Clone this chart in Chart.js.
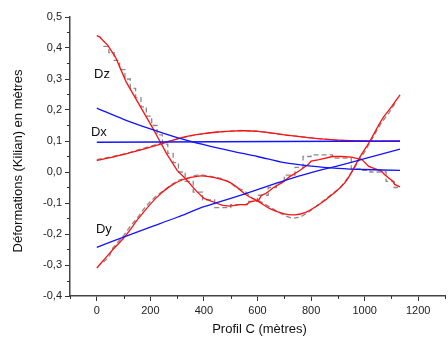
<!DOCTYPE html>
<html><head><meta charset="utf-8">
<script src="https://cdn.jsdelivr.net/npm/chart.js@4.4.0/dist/chart.umd.min.js"></script>
<style>html,body{margin:0;padding:0;background:#fff}</style>
</head><body>
<canvas id="c" width="448" height="338"></canvas>
<script>
// ---- data ----
const xTickValues = [0, 200, 400, 600, 800, 1000, 1200];

const dzRedX = [0, 12, 22, 40, 70, 110, 160, 210, 235, 260, 300, 335, 370, 400, 445, 470, 495, 535, 560, 570, 605, 615, 630, 660, 690, 700, 720, 755, 790, 800, 830, 880, 915, 950, 990, 1015, 1050, 1060, 1075, 1105, 1112, 1132];
const dzRedY = [0.44, 0.435, 0.425, 0.41, 0.37, 0.29, 0.215, 0.14, 0.10, 0.06, 0.005, -0.025, -0.06, -0.085, -0.10, -0.108, -0.11, -0.105, -0.105, -0.097, -0.09, -0.075, -0.07, -0.05, -0.035, -0.03, -0.015, 0.003, 0.025, 0.035, 0.04, 0.05, 0.05, 0.048, 0.04, 0.018, 0.007, 0.005, -0.009, -0.03, -0.04, -0.048];

const dzGrayX = [25, 45, 45, 65, 65, 85, 85, 105, 105, 125, 125, 145, 145, 165, 165, 185, 185, 205, 205, 225, 225, 245, 245, 265, 265, 285, 285, 305, 305, 330, 330, 360, 360, 395, 395, 440, 440, 500, 500, 560, 560, 600, 600, 640, 640, 670, 670, 700, 700, 740, 740, 770, 770, 800, 800, 880, 880, 950, 950, 990, 990, 1020, 1020, 1080, 1080, 1110, 1110, 1130];
const dzGrayY = [0.405, 0.405, 0.385, 0.385, 0.36, 0.36, 0.33, 0.33, 0.30, 0.30, 0.27, 0.27, 0.24, 0.24, 0.21, 0.21, 0.18, 0.18, 0.15, 0.15, 0.12, 0.12, 0.09, 0.09, 0.06, 0.06, 0.03, 0.03, 0.0, 0.0, -0.03, -0.03, -0.065, -0.065, -0.09, -0.09, -0.115, -0.115, -0.105, -0.105, -0.095, -0.095, -0.075, -0.075, -0.05, -0.05, -0.035, -0.035, -0.01, -0.01, 0.015, 0.015, 0.05, 0.05, 0.055, 0.055, 0.045, 0.045, 0.01, 0.01, 0.005, 0.005, 0.0, 0.0, -0.03, -0.03, -0.05, -0.05];

const dxRedX = [0, 50, 100, 150, 200, 250, 300, 350, 400, 450, 500, 550, 600, 650, 700, 750, 800, 850, 900, 950, 1000, 1050, 1100, 1132];
const dxRedY = [0.037, 0.046, 0.057, 0.068, 0.08, 0.093, 0.107, 0.117, 0.124, 0.129, 0.132, 0.133, 0.131, 0.126, 0.12, 0.115, 0.11, 0.106, 0.103, 0.101, 0.100, 0.099, 0.099, 0.099];

const dxGrayX = [0, 60, 120, 180, 240, 300, 360, 420, 480, 540, 600, 660, 720, 780, 840, 900, 960, 1020, 1080, 1130];
const dxGrayY = [0.04, 0.05, 0.062, 0.078, 0.093, 0.106, 0.118, 0.126, 0.131, 0.134, 0.132, 0.124, 0.118, 0.112, 0.107, 0.102, 0.100, 0.099, 0.099, 0.099];

const dyRedX = [0, 50, 105, 160, 220, 270, 320, 380, 440, 500, 560, 600, 650, 700, 740, 780, 830, 880, 930, 980, 1020, 1065, 1100, 1132];
const dyRedY = [-0.31, -0.26, -0.208, -0.145, -0.085, -0.048, -0.025, -0.013, -0.018, -0.035, -0.075, -0.093, -0.12, -0.135, -0.138, -0.13, -0.105, -0.072, -0.03, 0.045, 0.10, 0.17, 0.21, 0.249];

const dyGrayX = [25, 45, 60, 80, 100, 125, 150, 175, 200, 225, 250, 280, 310, 340, 370, 400, 430, 460, 490, 520, 550, 580, 610, 640, 670, 700, 730, 760, 790, 820, 850, 880, 910, 940, 960, 980, 1000, 1030, 1060, 1090, 1120];
const dyGrayY = [-0.29, -0.275, -0.245, -0.225, -0.205, -0.175, -0.15, -0.12, -0.095, -0.075, -0.06, -0.04, -0.025, -0.02, -0.01, -0.01, -0.015, -0.02, -0.03, -0.05, -0.06, -0.085, -0.095, -0.11, -0.125, -0.14, -0.15, -0.145, -0.13, -0.11, -0.09, -0.07, -0.05, -0.015, 0.01, 0.04, 0.065, 0.11, 0.155, 0.19, 0.23];

const dzBlueX = [0, 100, 200, 300, 400, 500, 600, 700, 800, 900, 1000, 1132];
const dzBlueY = [0.206, 0.17, 0.139, 0.111, 0.088, 0.068, 0.05, 0.03, 0.019, 0.012, 0.008, 0.005];

const dxBlueX = [0, 1132];
const dxBlueY = [0.096, 0.100];

const dyBlueX = [0, 100, 200, 300, 400, 500, 600, 700, 800, 900, 1000, 1132];
const dyBlueY = [-0.243, -0.21, -0.178, -0.146, -0.112, -0.085, -0.057, -0.028, -0.002, 0.02, 0.043, 0.074];

const seriesLabels = [
  {text: 'Dz', x: -10, y: 0.314},
  {text: 'Dx', x: -22, y: 0.128},
  {text: 'Dy', x: -3, y: -0.186}
];
const xTitle = 'Profil C (mètres)';
const yTitle = 'Déformations (Kilian) en mètres';

// ---- build ----
const pts = (xs, ys) => xs.map((x, i) => ({x: x, y: ys[i]}));
const FONT = '"Liberation Sans", Arial, sans-serif';
const RED = '#ff1010', BLUE = '#1414ff', GRAY = '#8a8a8a';

function ds(xs, ys, color, dashed, order, tension) {
  return {
    data: pts(xs, ys), borderColor: color, borderWidth: 1.3,
    borderDash: dashed ? [5, 3] : [], pointRadius: 0, fill: false,
    tension: tension || 0, order: order
  };
}

const deco = {
  id: 'deco',
  afterDraw(chart) {
    const ctx = chart.ctx, xs = chart.scales.x, ys = chart.scales.y;
    const a = chart.chartArea;
    ctx.save();
    ctx.strokeStyle = '#333'; ctx.lineWidth = 1;
    for (let v = -100; v <= 1300; v += 200) {
      const p = Math.round(xs.getPixelForValue(v)) + 0.5;
      ctx.beginPath(); ctx.moveTo(p, a.bottom); ctx.lineTo(p, a.bottom + 3); ctx.stroke();
    }
    for (let v = -0.35; v < 0.5; v += 0.1) {
      const p = Math.round(ys.getPixelForValue(v)) + 0.5;
      ctx.beginPath(); ctx.moveTo(a.left, p); ctx.lineTo(a.left - 3, p); ctx.stroke();
    }
    ctx.fillStyle = '#111';
    ctx.font = '13px ' + FONT;
    ctx.textBaseline = 'middle'; ctx.textAlign = 'left';
    seriesLabels.forEach(l => ctx.fillText(l.text, xs.getPixelForValue(l.x), ys.getPixelForValue(l.y)));
    ctx.textAlign = 'center';
    ctx.fillText(xTitle, (a.left + a.right) / 2 + 2, 329);
    ctx.translate(18, 161); ctx.rotate(-Math.PI / 2);
    ctx.fillText(yTitle, 0, 0);
    ctx.restore();
  }
};

new Chart(document.getElementById('c'), {
  type: 'line',
  data: {
    datasets: [
      ds(dzGrayX, dzGrayY, GRAY, true, 3),
      ds(dxGrayX, dxGrayY, GRAY, true, 3),
      ds(dyGrayX, dyGrayY, GRAY, true, 3),
      ds(dzRedX, dzRedY, RED, false, 2),
      ds(dxRedX, dxRedY, RED, false, 2, 0.3),
      ds(dyRedX, dyRedY, RED, false, 2, 0.35),
      ds(dzBlueX, dzBlueY, BLUE, false, 1, 0.3),
      ds(dxBlueX, dxBlueY, BLUE, false, 1),
      ds(dyBlueX, dyBlueY, BLUE, false, 1, 0.3)
    ]
  },
  options: {
    responsive: false, animation: false, devicePixelRatio: 1,
    layout: {padding: {left: 0, right: 3, top: 17, bottom: 0}},
    plugins: {legend: {display: false}, tooltip: {enabled: false}},
    scales: {
      x: {
        type: 'linear', min: -100, max: 1300,
        afterBuildTicks: s => { s.ticks = xTickValues.map(v => ({value: v})); },
        afterFit: s => { s.height = 42; },
        grid: {display: true, drawOnChartArea: false, drawTicks: true, tickLength: 5, tickColor: '#333', tickWidth: 1},
        border: {display: true, color: '#444', width: 1.5},
        ticks: {color: '#222', font: {size: 11, family: FONT}, padding: 3, maxRotation: 0, callback: v => String(v)}
      },
      y: {
        type: 'linear', min: -0.4, max: 0.5,
        ticks: {stepSize: 0.1, color: '#222', font: {size: 11, family: FONT}, padding: 3,
          callback: v => v.toFixed(1).replace('.', ',').replace('-0,0', '0,0')},
        afterFit: s => { s.width = 70; },
        grid: {display: true, drawOnChartArea: false, drawTicks: true, tickLength: 5, tickColor: '#333', tickWidth: 1},
        border: {display: true, color: '#444', width: 1.5}
      }
    }
  },
  plugins: [deco]
});
</script>
</body></html>
